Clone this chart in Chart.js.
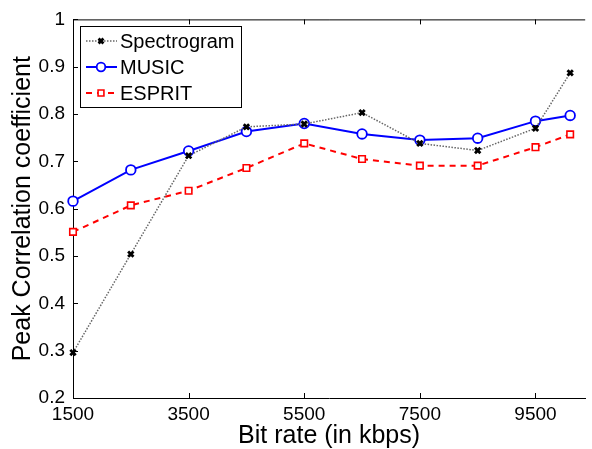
<!DOCTYPE html>
<html>
<head>
<meta charset="utf-8">
<script src="https://cdn.jsdelivr.net/npm/chart.js@4"></script>
<style>
  html, body { margin: 0; padding: 0; background: #fff; }
  #wrap { width: 592px; height: 449px; }
</style>
</head>
<body>
<div id="wrap"><canvas id="myChart" width="592" height="449"></canvas></div>
<script>
// bit rates (kbps) and the three series
var bitRates = [1500, 2500, 3500, 4500, 5500, 6500, 7500, 8500, 9500, 10100];
var spectrogram = [0.296, 0.504, 0.712, 0.773, 0.779, 0.803, 0.738, 0.723, 0.770, 0.887];
var music = [0.616, 0.682, 0.722, 0.763, 0.780, 0.758, 0.745, 0.749, 0.785, 0.797];
var esprit = [0.551, 0.607, 0.638, 0.686, 0.738, 0.705, 0.691, 0.691, 0.730, 0.757];
var xTicks = [1500, 3500, 5500, 7500, 9500];
var yTicks = [0.2, 0.3, 0.4, 0.5, 0.6, 0.7, 0.8, 0.9, 1];

var FONT = "'Liberation Sans', Arial, Helvetica, sans-serif";

function toPoints(vals){
    return vals.map(function(v, i){ return {x: bitRates[i], y: v}; });
}

var series = [
    {label: 'Spectrogram', data: spectrogram, color: '#000', line: '#666', width: 1.5, dash: [1.5, 1.5],
     style: 'crossRot', radius: 3.8, pWidth: 2.8, fill: '#000'},
    {label: 'MUSIC', data: music, color: '#0000ff', line: '#0000ff', width: 2, dash: [],
     style: 'circle', radius: 4.8, pWidth: 1.8, fill: '#fff'},
    {label: 'ESPRIT', data: esprit, color: '#ff0000', line: '#ff0000', width: 2, dash: [6, 5],
     style: 'rect', radius: 4.6, pWidth: 1.6, fill: '#fff'}
];

// matlab style: inward ticks, top box line, boxed legend
var matlabAxes = {
    id: 'matlabAxes',
    afterDraw: function(chart){
        var ctx = chart.ctx, a = chart.chartArea;
        var xs = chart.scales.x, ys = chart.scales.y;
        ctx.save();
        ctx.strokeStyle = '#000';
        ctx.lineWidth = 1;
        ctx.beginPath();
        ctx.moveTo(a.left, a.top + 0.5);
        ctx.lineTo(a.right, a.top + 0.5);
        xTicks.forEach(function(v){
            var px = Math.round(xs.getPixelForValue(v)) + 0.5;
            ctx.moveTo(px, a.bottom); ctx.lineTo(px, a.bottom - 5);
            ctx.moveTo(px, a.top); ctx.lineTo(px, a.top + 5);
        });
        yTicks.forEach(function(v){
            var py = Math.round(ys.getPixelForValue(v)) + 0.5;
            ctx.moveTo(a.left, py); ctx.lineTo(a.left + 5, py);
        });
        ctx.stroke();

        // legend
        var bx = 80.5, by = 26.5, bw = 161, bh = 81;
        ctx.fillStyle = '#fff';
        ctx.fillRect(bx, by, bw, bh);
        ctx.strokeRect(bx, by, bw, bh);
        var rows = [41, 67, 93];
        series.forEach(function(s, i){
            var y = rows[i];
            ctx.save();
            ctx.strokeStyle = s.line;
            ctx.lineWidth = s.width;
            ctx.setLineDash(s.dash);
            ctx.beginPath();
            ctx.moveTo(86, y); ctx.lineTo(117, y);
            ctx.stroke();
            ctx.restore();
            ctx.save();
            ctx.strokeStyle = s.color;
            ctx.fillStyle = s.fill;
            ctx.lineWidth = s.pWidth;
            Chart.helpers.drawPoint(ctx, {pointStyle: s.style, radius: s.radius * 0.9, rotation: 0, borderWidth: s.pWidth}, 101, y);
            ctx.restore();
            ctx.fillStyle = '#000';
            ctx.font = '20px ' + FONT;
            ctx.textBaseline = 'middle';
            ctx.textAlign = 'left';
            ctx.fillText(s.label, 120, y + 1);
        });
        ctx.restore();
    }
};

var ctx = document.getElementById('myChart').getContext('2d');
var myChart = new Chart(ctx, {
    type: 'line',
    data: {
        datasets: series.map(function(s){
            return {
                label: s.label,
                data: toPoints(s.data),
                borderColor: s.line,
                borderWidth: s.width,
                borderDash: s.dash,
                pointStyle: s.style,
                pointRadius: s.radius,
                pointBorderWidth: s.pWidth,
                pointBorderColor: s.color,
                pointBackgroundColor: s.fill,
                tension: 0,
                fill: false,
                clip: false
            };
        })
    },
    options: {
        responsive: false,
        animation: false,
        events: [],
        layout: {padding: {top: 17, right: 0, left: 0, bottom: 0}},
        plugins: {legend: {display: false}, tooltip: {enabled: false}},
        scales: {
            x: {
                type: 'linear',
                min: 1500,
                max: 10360,
                afterFit: function(s){ s.height = 51; },
                afterBuildTicks: function(s){ s.ticks = xTicks.map(function(v){ return {value: v}; }); },
                grid: {display: false, drawTicks: false},
                border: {display: true, color: '#000', width: 1},
                ticks: {
                    color: '#000',
                    font: {family: FONT, size: 19},
                    padding: 5,
                    maxRotation: 0,
                    callback: function(v){ return String(v); }
                },
                title: {
                    display: true,
                    text: 'Bit rate (in kbps)',
                    color: '#000',
                    font: {family: FONT, size: 25, lineHeight: 1},
                    padding: 0
                }
            },
            y: {
                min: 0.2,
                max: 1,
                afterFit: function(s){ s.width = 73; },
                afterBuildTicks: function(s){ s.ticks = yTicks.map(function(v){ return {value: v}; }); },
                grid: {display: false, drawTicks: false},
                border: {display: true, color: '#000', width: 1},
                ticks: {
                    color: '#000',
                    font: {family: FONT, size: 19},
                    padding: 8,
                    callback: function(v){ return v === 1 ? '1' : v.toFixed(1); }
                },
                title: {
                    display: true,
                    text: 'Peak Correlation coefficient',
                    color: '#000',
                    font: {family: FONT, size: 25, lineHeight: 1},
                    padding: {top: 11, bottom: 0}
                }
            }
        }
    },
    plugins: [matlabAxes]
});
</script>
</body>
</html>
